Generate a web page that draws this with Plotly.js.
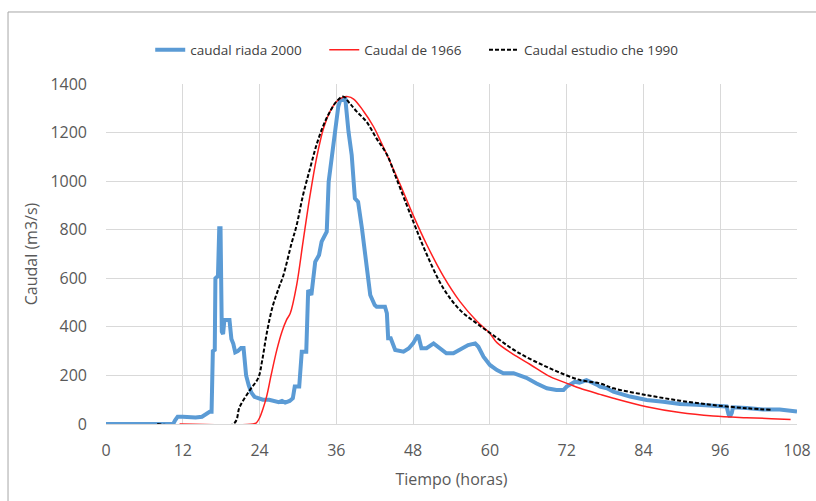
<!DOCTYPE html>
<html>
<head>
<meta charset="utf-8">
<script src="https://cdn.plot.ly/plotly-3.0.1.min.js"></script>
<style>html,body{margin:0;padding:0;background:#fff;}#chart{width:816px;height:501px;}</style>
</head>
<body>
<div id="chart"></div>
<script>
const seriesNames = ["caudal riada 2000", "Caudal de 1966", "Caudal estudio che 1990"];

const riadaHours = [0,10.5,10.8,11.2,12,13,14,15,15.5,16.2,16.5,16.7,17.0,17.1,17.5,17.7,17.9,18.1,18.3,18.5,19.3,19.6,19.9,20.2,20.6,21.1,21.5,21.9,22.3,22.7,23.2,23.8,24.5,25.5,26.5,27,27.5,28,28.7,29.2,29.5,30.2,30.6,31.3,31.6,32.1,32.7,33.3,33.7,34.5,34.8,35.3,35.8,36.3,36.6,37.4,37.9,38.4,38.9,39.4,40,40.5,41,41.3,42,42.3,43.6,43.9,44.1,44.5,45.2,46.5,47.3,48,48.6,48.8,49.3,50.1,51.2,51.9,53.2,54.3,55.3,56.6,57.7,58.2,59,60,61.1,62.1,63.7,65,65.7,67.3,68.9,70.4,71.5,72,73.3,74,75.1,76.7,77.2,78.3,79.3,81.9,84.5,87.1,89.7,92.3,94.9,97,97.3,97.5,97.8,98,100.1,102.7,105.3,108];
const riadaFlow = [0,0,15,30,30,28,27,30,40,50,50,300,305,600,610,806,806,380,370,428,428,350,330,295,300,313,313,200,160,130,112,105,100,100,92,90,95,88,95,106,154,154,298,298,552,531,668,696,751,792,998,1108,1190,1306,1334,1340,1204,1108,929,915,806,696,600,531,490,483,483,456,353,353,305,298,311,332,360,366,312,312,332,318,291,291,305,325,332,318,277,243,222,209,209,195,190,167,147,140,140,154,174,170,181,162,154,147,133,113,99,92,82,79,74,72,40,30,45,69,66,60,60,51];

const h1966Hours = [11.5,23,23.5,24,24.5,25.1,25.8,26.7,27.5,28.2,28.8,29.8,30.8,31.9,32.9,34,35,36,37,37.8,38.7,40.2,41.8,43,44.4,46,48,50.1,52.7,55.3,57.9,60,61.1,64.2,66.3,69.4,72.5,74.1,77.2,79.3,84.5,89.7,94.9,100.1,104,107];
const h1966Flow = [0,0,5,25,60,113,200,305,380,428,456,572,751,943,1094,1218,1286,1327,1345,1348,1338,1290,1225,1160,1080,985,860,740,610,505,425,373,335,278,245,195,163,147,122,106,71,47,33,26,22,19];

const che1990Hours = [8,19.9,20.9,22.5,23.8,24.4,25.1,26,27,27.7,29,29.8,30.8,31.9,32.9,34,35,36,37.1,38.1,39.2,40.7,42.3,43.9,45.4,48,50.1,52.7,55.3,57.9,60.5,64.2,69.4,74.1,77.2,79.3,84.5,89.7,94.9,100.1,104];
const che1990Flow = [0,0,71,140,190,260,370,480,560,610,744,819,943,1053,1149,1231,1286,1327,1348,1320,1286,1245,1175,1110,1010,835,700,560,470,415,366,298,229,181,167,147,119,96,78,65,58];

const xTicks = [0,12,24,36,48,60,72,84,96,108];
const yTicks = [0,200,400,600,800,1000,1200,1400];

const FONT = "Open Sans, Lato, sans-serif";
const PAD = "\u00a0\u00a0\u00a0\u00a0\u00a0";
const traces = [
  {x: riadaHours, y: riadaFlow, name: seriesNames[0] + PAD, type: "scatter", mode: "lines",
   line: {color: "#5B9BD5", width: 4}},
  {x: h1966Hours, y: h1966Flow, name: seriesNames[1] + PAD, type: "scatter", mode: "lines",
   line: {color: "#FF2020", width: 1.5, shape: "spline"}},
  {x: che1990Hours, y: che1990Flow, name: seriesNames[2], type: "scatter", mode: "lines",
   line: {color: "#000000", width: 2, dash: "4px,2px", shape: "spline"}}
];

const layout = {
  width: 816, height: 501,
  margin: {l: 106, r: 19, t: 84, b: 77},
  paper_bgcolor: "#ffffff", plot_bgcolor: "#ffffff",
  font: {family: FONT, color: "#595959"},
  showlegend: true,
  legend: {orientation: "h", x: 0.064, xanchor: "left", y: 1.1, yanchor: "middle",
           font: {size: 13.5, color: "#404040", family: FONT}, bgcolor: "rgba(0,0,0,0)"},
  xaxis: {range: [0, 108], tickvals: xTicks, ticktext: xTicks.map(String),
          showgrid: true, gridcolor: "#d9d9d9", gridwidth: 1, zeroline: false,
          showline: true, linecolor: "#d9d9d9", ticks: "", ticklabelstandoff: 12,
          tickfont: {size: 16, color: "#595959"},
          title: {text: "Tiempo (horas)", font: {size: 16, color: "#595959"}, standoff: 13}},
  yaxis: {range: [0, 1400], tickvals: yTicks, ticktext: yTicks.map(String),
          showgrid: true, gridcolor: "#d9d9d9", gridwidth: 1, zeroline: false,
          showline: false, ticks: "", ticklabelstandoff: 18,
          tickfont: {size: 16, color: "#595959"},
          title: {text: "Caudal (m3/s)", font: {size: 16, color: "#595959"}, standoff: 8}},
  shapes: [
    {type: "rect", xref: "paper", yref: "paper", x0: -0.1418, x1: 1.06, y0: -0.3, y1: 1.2118,
     line: {color: "#a6a6a6", width: 1}, fillcolor: "rgba(0,0,0,0)", layer: "below"}
  ]
};

Plotly.newPlot("chart", traces, layout, {displayModeBar: false, staticPlot: true});
</script>
</body>
</html>
